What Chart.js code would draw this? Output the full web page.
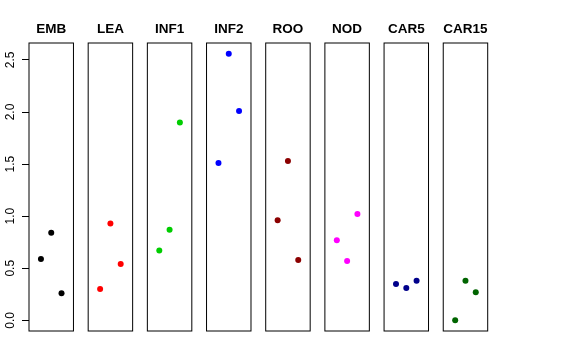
<!DOCTYPE html>
<html>
<head>
<meta charset="utf-8">
<script src="https://cdn.jsdelivr.net/npm/chart.js@4"></script>
<style>
html,body{margin:0;padding:0;background:#fff;}
#wrap{position:relative;width:576px;height:360px;}
</style>
</head>
<body>
<div id="wrap"><canvas id="c" width="576" height="360"></canvas></div>
<script>
// ---- data ----
const categories = ['EMB','LEA','INF1','INF2','ROO','NOD','CAR5','CAR15'];
const colors = ['#000000','#FF0000','#00CD00','#0000FF','#8B0000','#FF00FF','#00008B','#006400'];
const EMB   = [0.59, 0.84, 0.26];
const LEA   = [0.30, 0.93, 0.54];
const INF1  = [0.67, 0.87, 1.90];
const INF2  = [1.51, 2.56, 2.01];
const ROO   = [0.96, 1.53, 0.58];
const NOD   = [0.77, 0.57, 1.02];
const CAR5  = [0.35, 0.31, 0.38];
const CAR15 = [0.00, 0.38, 0.27];
const seriesValues = [EMB, LEA, INF1, INF2, ROO, NOD, CAR5, CAR15];
const yTicks = [0.0, 0.5, 1.0, 1.5, 2.0, 2.5];
const yTickLabels = ['0.0','0.5','1.0','1.5','2.0','2.5'];

// ---- layout helpers ----
const PERIOD = 5.75;          // x-units between panel origins
const XLO = -0.16, XHI = 4.16; // each panel's x-range (0..4 with 4% pad)
let allVals = [].concat(...seriesValues);
const dmin = Math.min(...allVals), dmax = Math.max(...allVals);
const ext = (dmax - dmin) * 0.04;

const datasets = seriesValues.map((vals, i) => ({
  label: categories[i],
  data: vals.map((v, j) => ({x: i * PERIOD + (j + 1), y: v})),
  backgroundColor: colors[i],
  borderColor: colors[i],
  pointRadius: 3,
  pointHoverRadius: 3,
  pointBorderWidth: 0,
  showLine: false
}));

const panelPlugin = {
  id: 'panels',
  afterDatasetsDraw(chart) {
    const ctx = chart.ctx;
    const xs = chart.scales.x, ys = chart.scales.y;
    ctx.save();
    ctx.strokeStyle = '#000';
    ctx.lineWidth = 1;
    categories.forEach((name, i) => {
      const l = xs.getPixelForValue(i * PERIOD + XLO);
      const r = xs.getPixelForValue(i * PERIOD + XHI);
      const t = ys.getPixelForValue(ys.max);
      const b = ys.getPixelForValue(ys.min);
      ctx.strokeRect(l, t, r - l, b - t);
      ctx.fillStyle = '#000';
      ctx.font = "bold 13.5px 'Liberation Sans', Arial, sans-serif";
      ctx.textAlign = 'center';
      ctx.textBaseline = 'alphabetic';
      ctx.fillText(name, (l + r) / 2, 33.3);
    });
    // rotated y tick labels
    ctx.font = "12px 'Liberation Sans', Arial, sans-serif";
    ctx.textAlign = 'center';
    ctx.textBaseline = 'alphabetic';
    yTicks.forEach((v, k) => {
      const py = ys.getPixelForValue(v);
      ctx.save();
      ctx.translate(13.8, py);
      ctx.rotate(-Math.PI / 2);
      ctx.fillText(yTickLabels[k], 0, 0);
      ctx.restore();
    });
    ctx.restore();
  }
};

new Chart(document.getElementById('c'), {
  type: 'scatter',
  data: { datasets },
  options: {
    responsive: false,
    animation: false,
    events: [],
    layout: { padding: { left: 0, top: 43, right: 88.3, bottom: 29 } },
    plugins: { legend: { display: false }, tooltip: { enabled: false } },
    scales: {
      x: {
        type: 'linear',
        display: false,
        min: XLO,
        max: (categories.length - 1) * PERIOD + XHI
      },
      y: {
        type: 'linear',
        min: dmin - ext,
        max: dmax + ext,
        afterFit(s) { s.width = 29; },
        afterBuildTicks(s) { s.ticks = yTicks.map(v => ({ value: v })); },
        border: { display: false },
        grid: {
          drawOnChartArea: false,
          drawTicks: true,
          tickLength: 7,
          color: '#000',
          lineWidth: 1
        },
        ticks: { display: false }
      }
    }
  },
  plugins: [panelPlugin]
});
</script>
</body>
</html>
